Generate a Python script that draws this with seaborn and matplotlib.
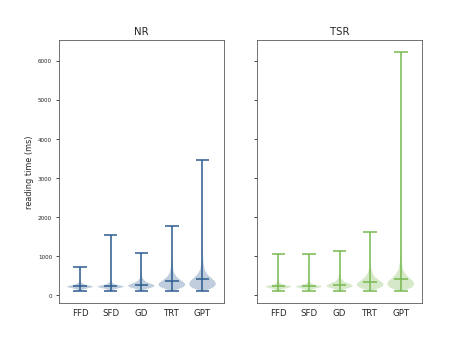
import numpy as np
import matplotlib
matplotlib.use("Agg")
import matplotlib.pyplot as plt
import seaborn as sns

sns.set_style("ticks")
plt.rcParams['font.family'] = ['DejaVu Sans']

categories = ["FFD", "SFD", "GD", "TRT", "GPT"]
panels = ["NR", "TSR"]

# summary statistics (ms)
nr_min = [110, 110, 110, 110, 110]
nr_median = [230, 230, 265, 345, 405]
nr_max = [705, 1540, 1075, 1755, 3460]

tsr_min = [110, 110, 110, 110, 110]
tsr_median = [240, 240, 265, 325, 395]
tsr_max = [1050, 1050, 1135, 1610, 6220]

# density profiles (relative half-widths)
ffd_y = [110, 150, 190, 215, 240, 270, 320, 400]
ffd_d = [0.08, 0.35, 0.85, 1.00, 0.70, 0.30, 0.06, 0.01]
sfd_y = [110, 150, 190, 215, 240, 270, 320, 400, 600]
sfd_d = [0.08, 0.35, 0.85, 1.00, 0.72, 0.32, 0.08, 0.02, 0.004]
gd_y = [110, 150, 200, 240, 280, 340, 420, 550, 750]
gd_d = [0.08, 0.40, 0.88, 1.00, 0.75, 0.32, 0.10, 0.03, 0.008]
trt_y = [110, 150, 200, 250, 300, 380, 460, 580, 750, 1000]
trt_d = [0.15, 0.50, 0.85, 1.00, 0.95, 0.65, 0.35, 0.14, 0.05, 0.01]
gpt_y = [110, 150, 200, 270, 350, 430, 520, 650, 850, 1200, 1800]
gpt_d = [0.20, 0.55, 0.85, 1.00, 0.92, 0.65, 0.38, 0.16, 0.06, 0.02, 0.005]

profiles_y = [ffd_y, sfd_y, gd_y, trt_y, gpt_y]
profiles_d = [ffd_d, sfd_d, gd_d, trt_d, gpt_d]

colors = {"NR": "#2b5b8e", "TSR": "#77b94f"}


def build_stats(mins, meds, maxs):
    stats = []
    for i in range(len(categories)):
        ys = list(profiles_y[i]) + [maxs[i]]
        ds = list(profiles_d[i]) + [0.0]
        ys[0] = mins[i]
        stats.append({
            "coords": np.array(ys, dtype=float),
            "vals": np.array(ds, dtype=float),
            "mean": meds[i],
            "median": meds[i],
            "min": mins[i],
            "max": maxs[i],
        })
    return stats


fig, axes = plt.subplots(1, 2, sharey=True, figsize=(6.4, 4.65), dpi=73.3)
data = {
    "NR": (nr_min, nr_median, nr_max),
    "TSR": (tsr_min, tsr_median, tsr_max),
}
positions = np.arange(1, len(categories) + 1)
for ax, name in zip(axes, panels):
    mins, meds, maxs = data[name]
    st = build_stats(mins, meds, maxs)
    parts = ax.violin(st, positions=positions, widths=0.88,
                      showmeans=False, showextrema=True, showmedians=True)
    col = colors[name]
    for b in parts["bodies"]:
        b.set_facecolor(col)
        b.set_edgecolor("none")
        b.set_alpha(0.3)
    for key in ["cmins", "cmaxes", "cbars", "cmedians"]:
        parts[key].set_color(col)
        parts[key].set_linewidth(1.5)
    ax.set_xticks(positions)
    ax.set_xticklabels(categories, fontsize=8.5)
    ax.set_xlim(0.3, 5.7)
    ax.set_title(name, fontsize=10)
    ax.tick_params(axis="y", labelsize=5.5, length=3)
    ax.tick_params(axis="x", length=0, pad=6)
    for s in ax.spines.values():
        s.set_color("#555555")
        s.set_linewidth(0.8)
        s.set_visible(True)

axes[0].set_ylabel("reading time (ms)", fontsize=8)
axes[0].set_yticks([0, 1000, 2000, 3000, 4000, 5000, 6000])

fig.savefig("out.png", dpi=73.3)
